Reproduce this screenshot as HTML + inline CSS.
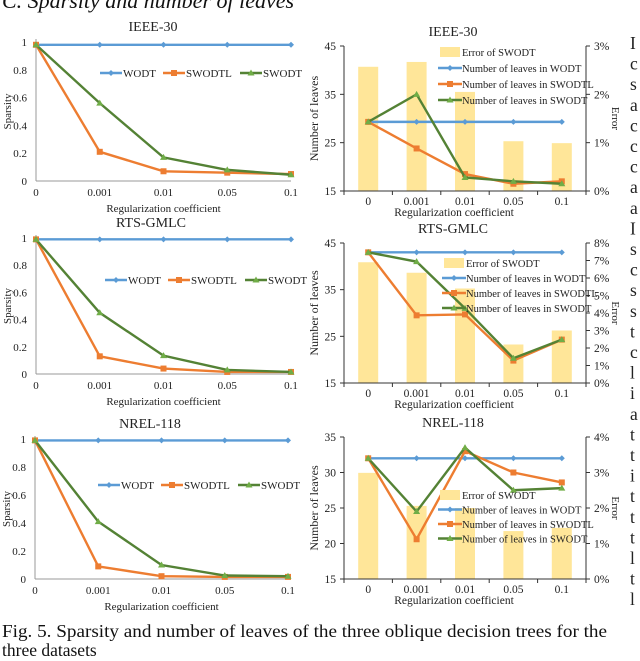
<!DOCTYPE html>
<html><head><meta charset="utf-8">
<style>
body{margin:0;background:#fff;}
svg{display:block;font-family:"Liberation Serif",serif;}
</style></head>
<body>
<svg id="fig" width="640" height="661" viewBox="0 0 640 661">
<text x="2" y="8" font-size="22" font-style="italic" fill="#111">C. Sparsity and number of leaves</text>
<g id="body-text"></g>
<text x="2" y="637" font-size="17.5" fill="#111" textLength="605" lengthAdjust="spacingAndGlyphs">Fig. 5.  Sparsity and number of leaves of the three oblique decision trees for the</text>
<text x="2" y="656" font-size="17.5" fill="#111">three datasets</text>
</svg>
<script>
const categories=["0","0.001","0.01","0.05","0.1"];
// Sparsity data
const sparsityWODT_ieee=[0.98,0.98,0.98,0.98,0.98];
const sparsitySWODTL_ieee=[0.98,0.21,0.07,0.06,0.05];
const sparsitySWODT_ieee=[0.98,0.56,0.17,0.08,0.045];
const sparsityWODT_rts=[0.99,0.99,0.99,0.99,0.99];
const sparsitySWODTL_rts=[0.99,0.13,0.04,0.015,0.015];
const sparsitySWODT_rts=[0.99,0.45,0.135,0.03,0.015];
const sparsityWODT_nrel=[0.99,0.99,0.99,0.99,0.99];
const sparsitySWODTL_nrel=[0.99,0.09,0.02,0.015,0.015];
const sparsitySWODT_nrel=[0.99,0.41,0.1,0.025,0.02];
const sparsityTicks=["0","0.2","0.4","0.6","0.8","1"];
// Leaves / error data
const errIeee=[2.57,2.67,2.05,1.03,0.99];
const leavesWODT_ieee=[29.3,29.3,29.3,29.3,29.3];
const leavesSWODTL_ieee=[29.3,23.8,18.5,16.5,17.0];
const leavesSWODT_ieee=[29.3,35,17.8,17.0,16.5];
const errRts=[6.9,6.3,5.4,2.2,3.0];
const leavesWODT_rts=[43,43,43,43,43];
const leavesSWODTL_rts=[43,29.5,29.7,19.8,24.3];
const leavesSWODT_rts=[43,41,31,20.3,24.3];
const errNrel=[2.99,2.06,2.0,1.35,1.44];
const leavesWODT_nrel=[32,32,32,32,32];
const leavesSWODTL_nrel=[32,20.6,33,30,28.6];
const leavesSWODT_nrel=[32,24.5,33.5,27.5,27.8];

const NS="http://www.w3.org/2000/svg";
const svg=document.getElementById('fig');
const BLUE="#5B9BD5",ORANGE="#ED7D31",GREEN="#548235",GREENM="#70AD47",BAR="#FFE699";
function mk(tag,attrs,parent){const e=document.createElementNS(NS,tag);for(const k in attrs)e.setAttribute(k,attrs[k]);(parent||svg).appendChild(e);return e;}
function txt(x,y,s,size,anchor,parent,extra){const t=mk('text',Object.assign({x:x,y:y,'font-size':size,'text-anchor':anchor||'middle',fill:'#222'},extra||{}),parent);t.textContent=s;return t;}
function marker(g,type,x,y,color){
  if(type==='diamond'){mk('path',{d:`M${x} ${y-3}L${x+3} ${y}L${x} ${y+3}L${x-3} ${y}Z`,fill:color},g);}
  else if(type==='square'){mk('rect',{x:x-3,y:y-3,width:6,height:6,fill:color},g);}
  else {mk('path',{d:`M${x} ${y-3.5}L${x+3.5} ${y+2.5}L${x-3.5} ${y+2.5}Z`,fill:GREENM},g);}
}
function series(g,vals,xf,yf,color,type,name){
  const s=mk('g',{},g);
  
  
  mk('polyline',{points:vals.map((v,i)=>xf(i)+','+yf(v)).join(' '),fill:'none',stroke:color,'stroke-width':2.4},s);
  vals.forEach((v,i)=>marker(s,type,xf(i),yf(v),color));
}

function sparsityChart(o){
  const g=mk('g',{});
  
  
  const xf=i=>o.x0+i*(o.x1-o.x0)/4, yf=v=>o.y0+(o.y1-o.y0)*v;
  mk('line',{x1:o.x0,y1:o.y0,x2:o.x1,y2:o.y0,stroke:'#999','stroke-width':1},g);
  mk('line',{x1:o.x0,y1:o.y0,x2:o.x0,y2:o.y1-3,stroke:'#999','stroke-width':1},g);
  sparsityTicks.forEach((t,i)=>txt(o.x0-9,yf(i*0.2)+4,t,11,'end',g));
  categories.forEach((c,i)=>txt(xf(i),o.y0+15,c,11,'middle',g));
  txt((o.x0+o.x1)/2,o.y0+31,'Regularization coefficient',11,'middle',g);
  txt(o.x0-25,(o.y0+o.y1)/2,'Sparsity',11,'middle',g,{transform:`rotate(-90 ${o.x0-25} ${(o.y0+o.y1)/2})`});
  txt(o.tx,o.y1-11,o.title,14,'middle',g);
  series(g,o.a,xf,yf,BLUE,'diamond','wodt-line');
  series(g,o.b,xf,yf,ORANGE,'square','swodtl-line');
  series(g,o.c,xf,yf,GREEN,'tri','swodt-line');
  const lg=mk('g',{},g);
  
  
  const items=[['WODT',BLUE,'diamond',0],['SWODTL',ORANGE,'square',63],['SWODT',GREEN,'tri',140]];
  items.forEach(it=>{
    const lx=o.lx+it[3];
    mk('line',{x1:lx,y1:o.ly,x2:lx+22,y2:o.ly,stroke:it[1],'stroke-width':2.4},lg);
    marker(lg,it[2],lx+11,o.ly,it[1]);
    txt(lx+23,o.ly+4,it[0],11,'start',lg);
  });
}
sparsityChart({name:'sparsity-chart-ieee30',title:'IEEE-30',x0:36,x1:291,y0:181,y1:42,tx:153,lx:100,ly:73,a:sparsityWODT_ieee,b:sparsitySWODTL_ieee,c:sparsitySWODT_ieee});
sparsityChart({name:'sparsity-chart-rts-gmlc',title:'RTS-GMLC',x0:36,x1:291,y0:374,y1:238,tx:151,lx:105,ly:280,a:sparsityWODT_rts,b:sparsitySWODTL_rts,c:sparsitySWODT_rts});
sparsityChart({name:'sparsity-chart-nrel118',title:'NREL-118',x0:35,x1:288,y0:579,y1:439,tx:150,lx:98,ly:485,a:sparsityWODT_nrel,b:sparsitySWODTL_nrel,c:sparsitySWODT_nrel});

function leavesChart(o){
  const g=mk('g',{});
  
  
  const L=344,R=586,step=(R-L)/5;
  const xf=i=>L+step*(i+0.5);
  const yf=v=>o.y0-(v-o.lmin)/(o.lmax-o.lmin)*(o.y0-o.y1);
  const ef=v=>o.y0-v/o.emax*(o.y0-o.y1);
  o.err.forEach((v,i)=>{
    const b=mk('rect',{x:xf(i)-10,y:ef(v),width:20,height:o.y0-ef(v),fill:BAR},g);
    
    
  });
  mk('line',{x1:L,y1:o.y0,x2:R,y2:o.y0,stroke:'#333','stroke-width':1},g);
  mk('line',{x1:L,y1:o.y0,x2:L,y2:o.y1,stroke:'#333','stroke-width':1},g);
  mk('line',{x1:R,y1:o.y0,x2:R,y2:o.y1,stroke:'#333','stroke-width':1},g);
  for(let i=0;i<=5;i++)mk('line',{x1:L+i*step,y1:o.y0,x2:L+i*step,y2:o.y0+4,stroke:'#333'},g);
  o.lticks.forEach(t=>{mk('line',{x1:L-4,y1:yf(+t),x2:L,y2:yf(+t),stroke:'#333'},g);txt(L-8,yf(+t)+4,t,11.5,'end',g);});
  o.eticks.forEach(t=>{mk('line',{x1:R,y1:ef(t),x2:R+4,y2:ef(t),stroke:'#333'},g);txt(R+8,ef(t)+4,t+'%',11.5,'start',g);});
  categories.forEach((c,i)=>txt(xf(i),o.y0+14,c,11.5,'middle',g));
  txt(454,o.y0+25,'Regularization coefficient',11.5,'middle',g);
  txt(318,(o.y0+o.y1)/2,'Number of leaves',12,'middle',g,{transform:`rotate(-90 318 ${(o.y0+o.y1)/2})`});
  txt(612,(o.y0+o.y1)/2,'Error',11,'middle',g,{transform:`rotate(90 612 ${(o.y0+o.y1)/2})`});
  txt(453,o.y1-10,o.title,14,'middle',g);
  series(g,o.a,xf,yf,BLUE,'diamond','wodt-leaves-line');
  series(g,o.b,xf,yf,ORANGE,'square','swodtl-leaves-line');
  series(g,o.c,xf,yf,GREEN,'tri','swodt-leaves-line');
  const lg=mk('g',{},g);
  
  
  const it=[['Error of SWODT',null],['Number of leaves in WODT',BLUE,'diamond'],['Number of leaves in SWODTL',ORANGE,'square'],['Number of leaves in SWODT',GREEN,'tri']];
  it.forEach((e,k)=>{
    const y=o.ly+k*o.ld;
    if(!e[1])mk('rect',{x:o.lx,y:y-5,width:20,height:10,fill:BAR},lg);
    else{mk('line',{x1:o.lx-2,y1:y,x2:o.lx+22,y2:y,stroke:e[1],'stroke-width':2.4},lg);marker(lg,e[2],o.lx+10,y,e[1]);}
    txt(o.lx+22,y+4,e[0],10.5,'start',lg);
  });
}
leavesChart({name:'leaves-chart-ieee30',title:'IEEE-30',y0:191,y1:46,lmin:15,lmax:45,emax:3,lticks:["15","25","35","45"],eticks:[0,1,2,3],err:errIeee,a:leavesWODT_ieee,b:leavesSWODTL_ieee,c:leavesSWODT_ieee,lx:440,ly:52,ld:16});
leavesChart({name:'leaves-chart-rts-gmlc',title:'RTS-GMLC',y0:383,y1:243,lmin:15,lmax:45,emax:8,lticks:["15","25","35","45"],eticks:[0,1,2,3,4,5,6,7,8],err:errRts,a:leavesWODT_rts,b:leavesSWODTL_rts,c:leavesSWODT_rts,lx:444,ly:263,ld:15});
leavesChart({name:'leaves-chart-nrel118',title:'NREL-118',y0:579,y1:437,lmin:15,lmax:35,emax:4,lticks:["15","20","25","30","35"],eticks:[0,1,2,3,4],err:errNrel,a:leavesWODT_nrel,b:leavesSWODTL_nrel,c:leavesSWODT_nrel,lx:440,ly:495,ld:14.5});

const bodyLetters=["I","c","s","a","c","c","c","a","a","I","s","c","s","s","t","c","l","i","a","t","t","i","t","t","t","l","t","l"];
const bt=document.getElementById('body-text');
bodyLetters.forEach((c,i)=>{txt(630,49+i*20.6,c,17.5,'start',bt);});
</script>
</body></html>
